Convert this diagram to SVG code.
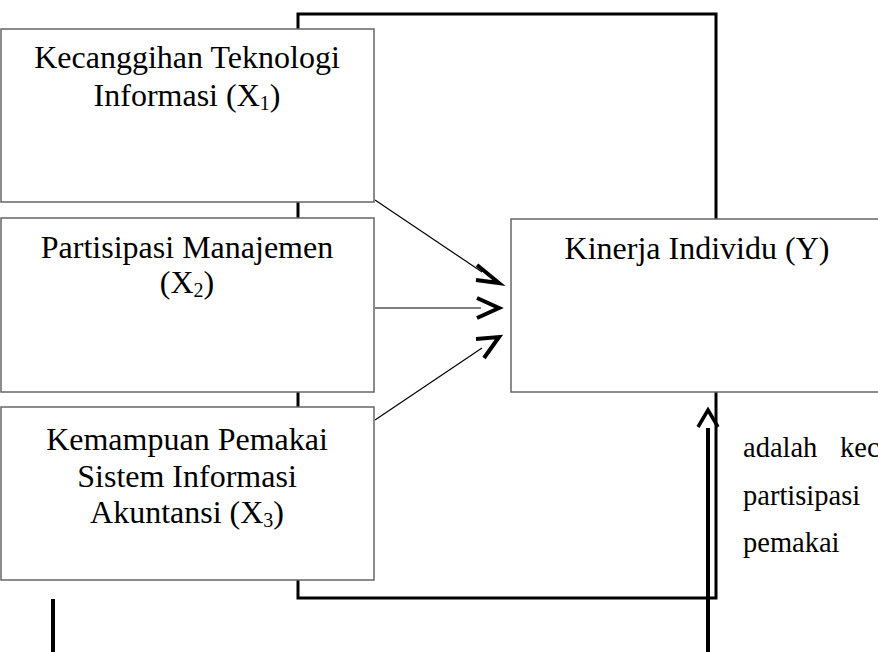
<svg xmlns="http://www.w3.org/2000/svg" width="878" height="652" viewBox="0 0 878 652">
<style>
.box{fill:#fff;stroke:#666;stroke-width:1.5}
.t{font-family:"Liberation Serif","Times New Roman",serif;font-size:32px;fill:#000;text-anchor:middle}
.b{font-family:"Liberation Serif","Times New Roman",serif;font-size:28.5px;fill:#000}
.sub{font-size:20px}
.br{fill:none;stroke:#000;stroke-width:3}
.ln{fill:none;stroke:#000;stroke-width:1.2}
.hd{fill:none;stroke:#000;stroke-width:4;stroke-linejoin:miter;stroke-linecap:butt}
</style>
<rect width="878" height="652" fill="#fff"/>
<g id="connectors">
<polyline class="br" points="298,29 298,14 716,14 716,219"/>
<line class="br" x1="298" y1="202" x2="298" y2="218"/>
<line class="br" x1="298" y1="392" x2="298" y2="407"/>
<polyline class="br" points="298,580 298,598 716,598 716,392"/>
<line class="ln" x1="375" y1="200" x2="482" y2="272"/>
<polyline class="hd" points="477,265 499,283 476,280"/>
<line class="ln" x1="375" y1="308" x2="481" y2="308"/>
<polyline class="hd" points="477,298 499,308 477,318"/>
<line class="ln" x1="375" y1="420" x2="482" y2="348"/>
<polyline class="hd" points="476,339 499,337 484,358"/>
<line x1="708" y1="428" x2="708" y2="652" stroke="#000" stroke-width="4"/>
<polyline class="hd" points="698,427 708,410 718,427" style="stroke-width:3.5"/>
<line x1="53" y1="599" x2="53" y2="652" stroke="#000" stroke-width="4"/>
</g>
<g id="x1">
<rect class="box" x="1" y="29" width="373" height="173"/>
<text class="t" x="187" y="68">Kecanggihan Teknologi</text>
<text class="t" x="187" y="106">Informasi (X<tspan class="sub" dy="4">1</tspan><tspan dy="-4">)</tspan></text>
</g>
<g id="x2">
<rect class="box" x="1" y="218" width="373" height="174"/>
<text class="t" x="187" y="258">Partisipasi Manajemen</text>
<text class="t" x="187" y="293">(X<tspan class="sub" dy="4">2</tspan><tspan dy="-4">)</tspan></text>
</g>
<g id="x3">
<rect class="box" x="1" y="407" width="373" height="173"/>
<text class="t" x="187" y="450">Kemampuan Pemakai</text>
<text class="t" x="187" y="487">Sistem Informasi</text>
<text class="t" x="187" y="523">Akuntansi (X<tspan class="sub" dy="4">3</tspan><tspan dy="-4">)</tspan></text>
</g>
<g id="y">
<rect class="box" x="511" y="219" width="380" height="173"/>
<text class="t" x="697" y="259">Kinerja Individu (Y)</text>
</g>
<g id="body-text">
<text class="b" x="743" y="457">adalah<tspan x="840">kec</tspan></text>
<text class="b" x="743" y="505">partisipasi</text>
<text class="b" x="743" y="552">pemakai</text>
</g>
</svg>
